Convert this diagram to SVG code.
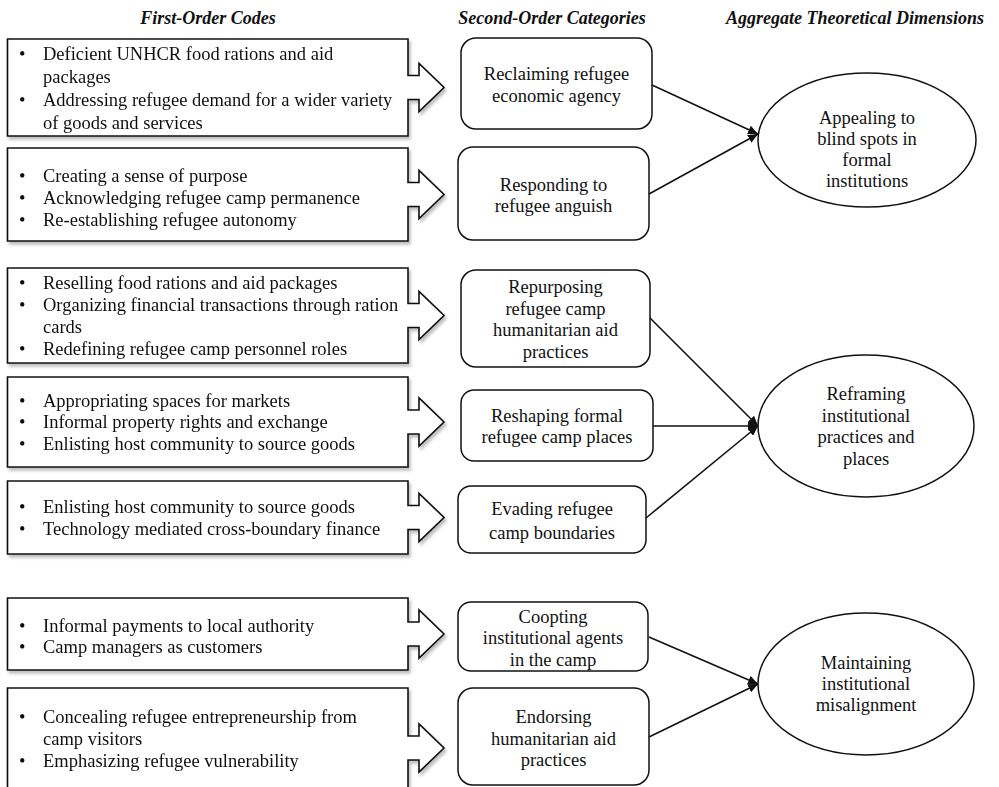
<svg xmlns="http://www.w3.org/2000/svg" width="999" height="787" viewBox="0 0 999 787">
<defs>
<style>
text{font-family:"Liberation Serif","Times New Roman",serif;font-size:18.5px;fill:#111}
.hd{font-weight:bold;font-style:italic;font-size:18px;text-anchor:middle}
.c{text-anchor:middle}
.code{fill:#fff;stroke:#111;stroke-width:1.6}
.cat{fill:#fff;stroke:#111;stroke-width:1.5}
.dim{fill:#fff;stroke:#111;stroke-width:1.5}
.con{stroke:#111;stroke-width:1.6;fill:none;marker-end:url(#ah)}
</style>
<filter id="sh" x="-5%" y="-10%" width="115%" height="130%">
<feDropShadow dx="2" dy="3" stdDeviation="1.8" flood-color="#000" flood-opacity="0.25"/>
</filter>
<marker id="ah" markerUnits="userSpaceOnUse" markerWidth="10" markerHeight="9" refX="10" refY="4.5" orient="auto">
<path d="M0,0 L10,4.5 L0,9 Z" fill="#111"/>
</marker>
</defs>

<g id="headers">
<text class="hd" x="208" y="24">First-Order Codes</text>
<text class="hd" x="552" y="24">Second-Order Categories</text>
<text class="hd" x="855" y="24">Aggregate Theoretical Dimensions</text>
</g>

<g id="code1" filter="url(#sh)">
<path class="code" d="M7.5,39 H408 V75.5 H419 V63.5 L444,87.5 L419,111.5 V99.5 H408 V136 H7.5 Z"/>
<text x="19" y="60">•</text><text x="43" y="60">Deficient UNHCR food rations and aid</text>
<text x="43" y="83.3">packages</text>
<text x="19" y="106">•</text><text x="43" y="106">Addressing refugee demand for a wider variety</text>
<text x="43" y="128.7">of goods and services</text>
</g>

<g id="code2" filter="url(#sh)">
<path class="code" d="M7.5,148 H408 V182.5 H419 V170.5 L444,194.5 L419,218.5 V206.5 H408 V241 H7.5 Z"/>
<text x="19" y="182">•</text><text x="43" y="182">Creating a sense of purpose</text>
<text x="19" y="203.5">•</text><text x="43" y="203.5">Acknowledging refugee camp permanence</text>
<text x="19" y="226">•</text><text x="43" y="226">Re-establishing refugee autonomy</text>
</g>

<g id="code3" filter="url(#sh)">
<path class="code" d="M7.5,268 H408 V303.5 H419 V291.5 L444,315.5 L419,339.5 V327.5 H408 V363 H7.5 Z"/>
<text x="19" y="289">•</text><text x="43" y="289">Reselling food rations and aid packages</text>
<text x="19" y="311">•</text><text x="43" y="311">Organizing financial transactions through ration</text>
<text x="43" y="333">cards</text>
<text x="19" y="355">•</text><text x="43" y="355">Redefining refugee camp personnel roles</text>
</g>

<g id="code4" filter="url(#sh)">
<path class="code" d="M7.5,377 H408 V410 H419 V398 L444,422 L419,446 V434 H408 V467 H7.5 Z"/>
<text x="19" y="406.5">•</text><text x="43" y="406.5">Appropriating spaces for markets</text>
<text x="19" y="428">•</text><text x="43" y="428">Informal property rights and exchange</text>
<text x="19" y="450">•</text><text x="43" y="450">Enlisting host community to source goods</text>
</g>

<g id="code5" filter="url(#sh)">
<path class="code" d="M7.5,481 H408 V505.5 H419 V493.5 L444,517.5 L419,541.5 V529.5 H408 V554 H7.5 Z"/>
<text x="19" y="512.5">•</text><text x="43" y="512.5">Enlisting host community to source goods</text>
<text x="19" y="534.5">•</text><text x="43" y="534.5">Technology mediated cross-boundary finance</text>
</g>

<g id="code6" filter="url(#sh)">
<path class="code" d="M7.5,598 H408 V622 H419 V610 L444,634 L419,658 V646 H408 V670 H7.5 Z"/>
<text x="19" y="631.5">•</text><text x="43" y="631.5">Informal payments to local authority</text>
<text x="19" y="653">•</text><text x="43" y="653">Camp managers as customers</text>
</g>

<g id="code7" filter="url(#sh)">
<path class="code" d="M7.5,688 H408 V736 H419 V724 L444,748 L419,772 V760 H408 V810 H7.5 Z"/>
<text x="19" y="723">•</text><text x="43" y="723">Concealing refugee entrepreneurship from</text>
<text x="43" y="745">camp visitors</text>
<text x="19" y="766.5">•</text><text x="43" y="766.5">Emphasizing refugee vulnerability</text>
</g>

<g id="cat1"><rect class="cat" x="461" y="38" width="191" height="91" rx="15"/>
<text class="c" x="556.5" y="80">Reclaiming refugee</text><text class="c" x="556.5" y="102">economic agency</text></g>
<g id="cat2"><rect class="cat" x="458" y="147" width="191" height="93" rx="15"/>
<text class="c" x="553.5" y="190.5">Responding to</text><text class="c" x="553.5" y="212">refugee anguish</text></g>
<g id="cat3"><rect class="cat" x="461" y="270" width="189" height="97" rx="15"/>
<text class="c" x="555.5" y="293">Repurposing</text><text class="c" x="555.5" y="315">refugee camp</text>
<text class="c" x="555.5" y="336">humanitarian aid</text><text class="c" x="555.5" y="358">practices</text></g>
<g id="cat4"><rect class="cat" x="461" y="390" width="192" height="71" rx="13"/>
<text class="c" x="557" y="421.5">Reshaping formal</text><text class="c" x="557" y="443">refugee camp places</text></g>
<g id="cat5"><rect class="cat" x="458" y="486" width="188" height="67" rx="13"/>
<text class="c" x="552" y="515">Evading refugee</text><text class="c" x="552" y="538.5">camp boundaries</text></g>
<g id="cat6"><rect class="cat" x="458" y="602" width="190" height="69" rx="13"/>
<text class="c" x="553" y="623">Coopting</text><text class="c" x="553" y="644">institutional agents</text>
<text class="c" x="553" y="666">in the camp</text></g>
<g id="cat7"><rect class="cat" x="458" y="688" width="191" height="97" rx="15"/>
<text class="c" x="553.5" y="723">Endorsing</text><text class="c" x="553.5" y="745">humanitarian aid</text>
<text class="c" x="553.5" y="766">practices</text></g>

<g id="dim1"><ellipse class="dim" cx="867" cy="140" rx="109" ry="67"/>
<text class="c" x="867" y="124">Appealing to</text><text class="c" x="867" y="145">blind spots in</text>
<text class="c" x="867" y="166">formal</text><text class="c" x="867" y="187">institutions</text></g>
<g id="dim2"><ellipse class="dim" cx="866" cy="426" rx="108" ry="71"/>
<text class="c" x="866" y="400">Reframing</text><text class="c" x="866" y="421.5">institutional</text>
<text class="c" x="866" y="443">practices and</text><text class="c" x="866" y="465">places</text></g>
<g id="dim3"><ellipse class="dim" cx="866" cy="684" rx="108" ry="71"/>
<text class="c" x="866" y="668.5">Maintaining</text><text class="c" x="866" y="690">institutional</text>
<text class="c" x="866" y="711">misalignment</text></g>

<g id="connectors">
<line class="con" x1="652" y1="85" x2="758" y2="134"/>
<line class="con" x1="649" y1="194" x2="758" y2="134"/>
<line class="con" x1="650" y1="318" x2="758" y2="426"/>
<line class="con" x1="653" y1="426" x2="758" y2="426"/>
<line class="con" x1="646" y1="518" x2="758" y2="426"/>
<line class="con" x1="649" y1="637" x2="758" y2="684"/>
<line class="con" x1="649" y1="737" x2="758" y2="684"/>
</g>
</svg>
